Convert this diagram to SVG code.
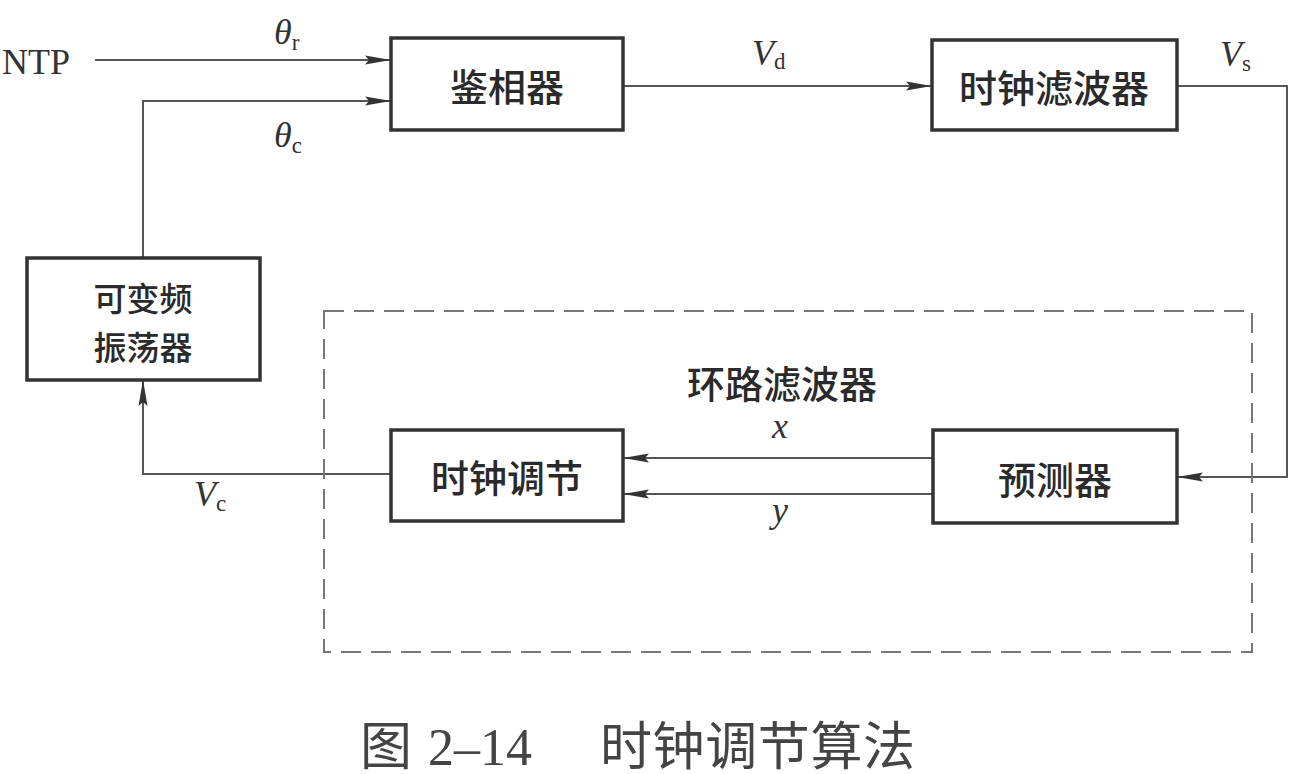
<svg xmlns="http://www.w3.org/2000/svg" width="1296" height="774" viewBox="0 0 1296 774">
<defs>
<marker id="arr" markerUnits="userSpaceOnUse" markerWidth="28" markerHeight="14" refX="26" refY="7" orient="auto">
<path d="M0,2.5 L26,7 L0,11.5 L4,7 Z" fill="#333"/>
</marker>
<style>
.box{fill:#fff;stroke:#333;stroke-width:3.5}
.ln{fill:none;stroke:#555;stroke-width:2}
.cn{font-family:"Noto Sans CJK SC","Noto Sans",sans-serif;font-size:38px;font-weight:500;fill:#2a2a2a;text-anchor:middle;dominant-baseline:central}
.lbl{font-family:"Liberation Serif",serif;font-size:36px;fill:#333}
.it{font-style:italic}
.sub{font-size:23px;font-style:normal}
.cap{font-family:"Liberation Serif","Noto Sans CJK SC",serif;font-size:52px;fill:#444}
</style>
</defs>
<rect width="1296" height="774" fill="#fff"/>
<g id="connectors">
<path class="ln" d="M95,60 H391" marker-end="url(#arr)"/>
<path class="ln" d="M143,258 V101 H391" marker-end="url(#arr)"/>
<path class="ln" d="M623,86 H932" marker-end="url(#arr)"/>
<path class="ln" d="M1177,86 H1287 V477 H1177" marker-end="url(#arr)"/>
<path class="ln" d="M933,458 H623" marker-end="url(#arr)"/>
<path class="ln" d="M933,494 H623" marker-end="url(#arr)"/>
<path class="ln" d="M391,474 H143 V380" marker-end="url(#arr)"/>
</g>
<g id="loop-filter">
<rect x="324" y="311" width="928" height="341" fill="none" stroke="#777" stroke-width="2" stroke-dasharray="20,10"/>
<text class="cn" x="782" y="381" style="font-size:38px">环路滤波器</text>
</g>
<g id="phase-detector">
<rect class="box" x="391" y="38" width="232" height="92"/>
<text class="cn" x="507" y="84">鉴相器</text>
</g>
<g id="clock-filter">
<rect class="box" x="932" y="40" width="245" height="90"/>
<text class="cn" x="1054" y="85">时钟滤波器</text>
</g>
<g id="vfo">
<rect class="box" x="27" y="258" width="233" height="122"/>
<text class="cn" x="143" y="297" style="font-size:33px">可变频</text>
<text class="cn" x="143" y="346" style="font-size:33px">振荡器</text>
</g>
<g id="clock-adjust">
<rect class="box" x="391" y="430" width="232" height="91"/>
<text class="cn" x="507" y="475">时钟调节</text>
</g>
<g id="predictor">
<rect class="box" x="933" y="430" width="244" height="93"/>
<text class="cn" x="1055" y="477">预测器</text>
</g>
<g id="labels">
<text class="lbl" x="2" y="74">NTP</text>
<text class="lbl it" x="274" y="44">θ<tspan class="sub" dy="6">r</tspan></text>
<text class="lbl it" x="274" y="147">θ<tspan class="sub" dy="6">c</tspan></text>
<text class="lbl it" x="752" y="65">V<tspan class="sub" dy="4">d</tspan></text>
<text class="lbl it" x="1220" y="66">V<tspan class="sub" dy="5">s</tspan></text>
<text class="lbl it" x="194" y="506">V<tspan class="sub" dy="5">c</tspan></text>
<text class="lbl it" x="772" y="438">x</text>
<text class="lbl it" x="772" y="522">y</text>
</g>
<g id="caption">
<text class="cap" x="360" y="765">图</text>
<text class="cap" x="428" y="765">2–14</text>
<text class="cap" x="600" y="765" textLength="315">时钟调节算法</text>
</g>
</svg>
